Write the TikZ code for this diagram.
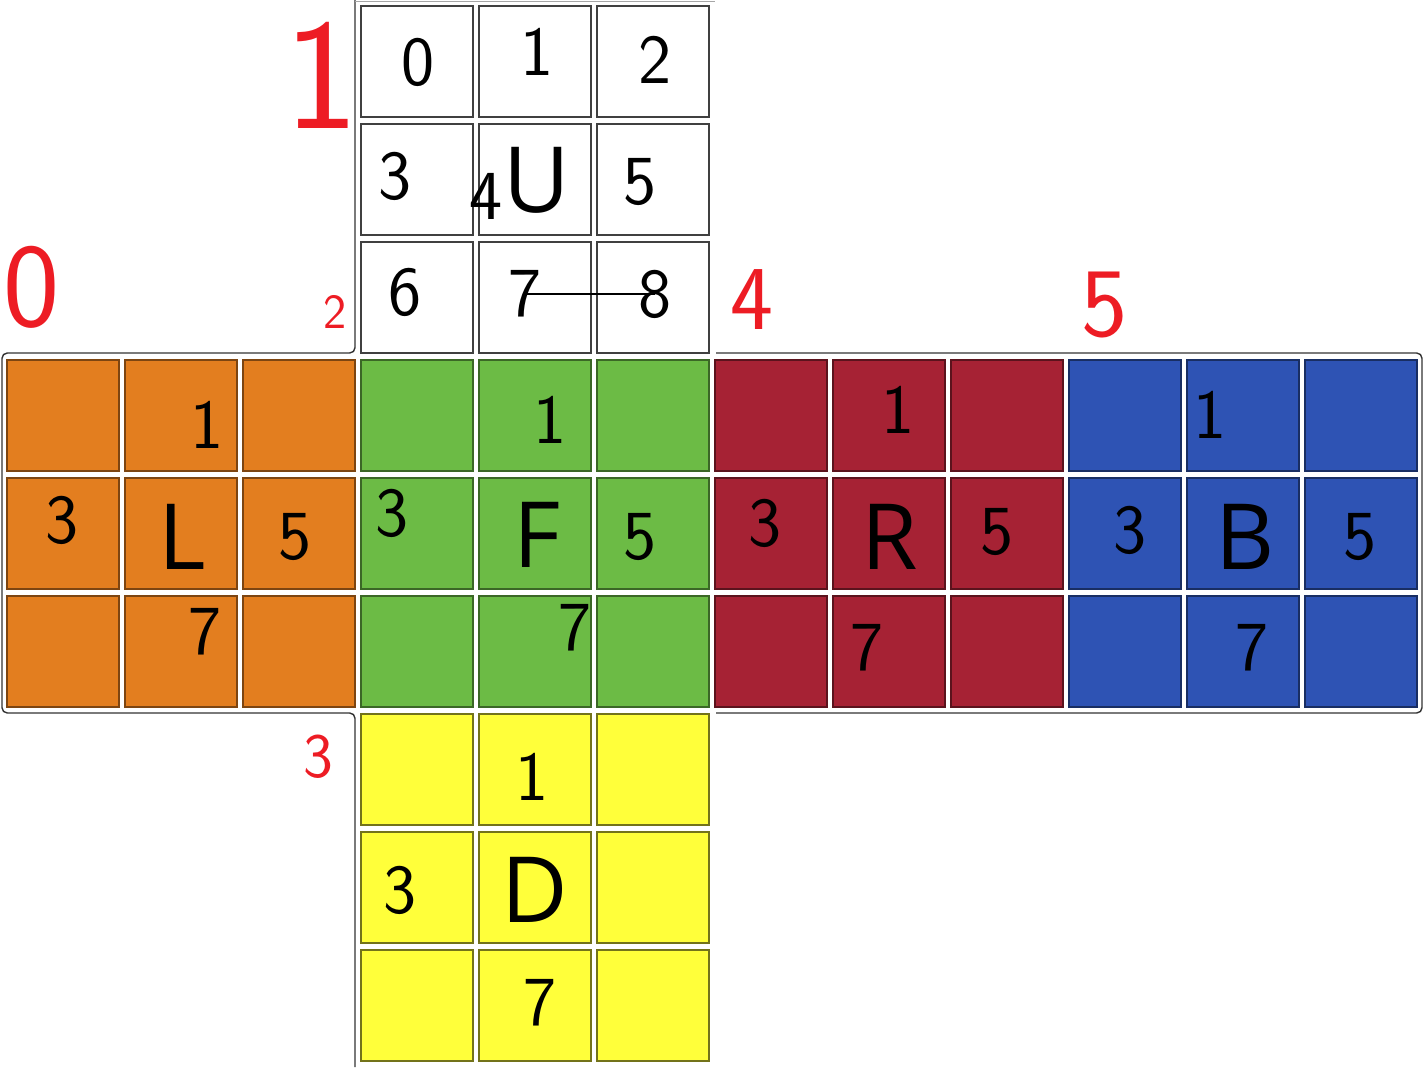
\documentclass[tikz,border=0pt]{standalone}
\usepackage{fontspec}
\setmainfont{Open Sans}
\definecolor{cubeorange}{RGB}{227,126,31}
\definecolor{cubegreen}{RGB}{108,187,69}
\definecolor{cubered}{RGB}{166,34,52}
\definecolor{cubeblue}{RGB}{46,83,180}
\definecolor{cubeyellow}{RGB}{255,255,58}
\definecolor{penred}{RGB}{237,28,36}
\begin{document}
\begin{tikzpicture}[x=0.02cm, y=-0.02cm,
    sticker/.style={line width=0.6pt},
    facelabel/.style={font=\fontsize{52}{52}\selectfont, inner sep=0pt},
    digit/.style={font=\sffamily\fontsize{40}{40}\selectfont, inner sep=0pt},
    facenum/.style={text=penred, font=\sffamily\fontsize{#1}{#1}\selectfont, inner sep=0pt},
    pen/.style={line width=1pt, black}]
    \useasboundingbox (0,0) rectangle (1424,1069);

    % Stickers of the six faces
    \foreach \c/\r/\col/\edge in {3/0/white/black!75, 0/3/cubeorange/cubeorange!55!black, 3/3/cubegreen/cubegreen!55!black,
                                  6/3/cubered/cubered!55!black, 9/3/cubeblue/cubeblue!55!black, 3/6/cubeyellow/cubeyellow!45!black} {
        \foreach \i in {0,1,2} {
            \foreach \j in {0,1,2} {
                \filldraw[sticker, fill=\col, draw=\edge] ({7+118*(\c+\i)},{6+118*(\r+\j)}) rectangle +(112,111);
            }
        }
    }

    % Outline of the net
    \draw[line width=0.8pt, black!80, rounded corners=3] (355,0) -- (355,353) -- (2,353) -- (2,713) -- (355,713) -- (355,1067);
    \draw[line width=0.8pt, black!80, rounded corners=3] (716,353) -- (1422,353) -- (1422,713) -- (716,713);
    \draw[line width=0.5pt, black!35] (355,1) -- (715,1);

    % Face letters
    \node[facelabel] (faceU) at (537,180) {U};
    \node[facelabel] (faceL) at (182,537) {L};
    \node[facelabel] (faceF) at (537,535) {F};
    \node[facelabel] (faceR) at (890,537) {R};
    \node[facelabel] (faceB) at (1245,537) {B};
    \node[facelabel] (faceD) at (535,890) {D};

    % Red face numbers
    \node[facenum=68] (num0) at (32,287) {0};
    \node[facenum=90] (num1) at (322,75) {1};
    \node[facenum=28] (num2) at (335,312) {2};
    \node[facenum=36] (num3) at (318,757) {3};
    \node[facenum=52] (num4) at (752,300) {4};
    \node[facenum=56] (num5) at (1105,305) {5};

    % Up face numbers
    \node[digit] (u0) at (418,62) {0};
    \node[digit] (u1) at (537,52) {1};
    \node[digit] (u2) at (655,60) {2};
    \node[digit] (u3) at (395,176) {3};
    \node[digit] (u4) at (486,196) {4};
    \node[digit] (u5) at (640,182) {5};
    \node[digit] (u6) at (405,292) {6};
    \node[digit] (u7) at (525,294) {7};
    \node[digit] (u8) at (655,294) {8};
    \draw[pen] (u7.center) -- (u8.center);

    % Left face numbers
    \node[digit] (l1) at (207,425) {1};
    \node[digit] (l3) at (62,520) {3};
    \node[digit] (l5) at (295,537) {5};
    \node[digit] (l7) at (205,632) {7};

    % Front face numbers
    \node[digit] (f1) at (550,420) {1};
    \node[digit] (f3) at (392,513) {3};
    \node[digit] (f5) at (640,537) {5};
    \node[digit] (f7) at (575,628) {7};

    % Right face numbers
    \node[digit] (r1) at (898,410) {1};
    \node[digit] (r3) at (765,523) {3};
    \node[digit] (r5) at (997,532) {5};
    \node[digit] (r7) at (867,648) {7};

    % Back face numbers
    \node[digit] (b1) at (1210,415) {1};
    \node[digit] (b3) at (1130,530) {3};
    \node[digit] (b5) at (1360,537) {5};
    \node[digit] (b7) at (1252,648) {7};

    % Down face numbers
    \node[digit] (d1) at (532,777) {1};
    \node[digit] (d3) at (400,890) {3};
    \node[digit] (d7) at (540,1003) {7};
\end{tikzpicture}
\end{document}
